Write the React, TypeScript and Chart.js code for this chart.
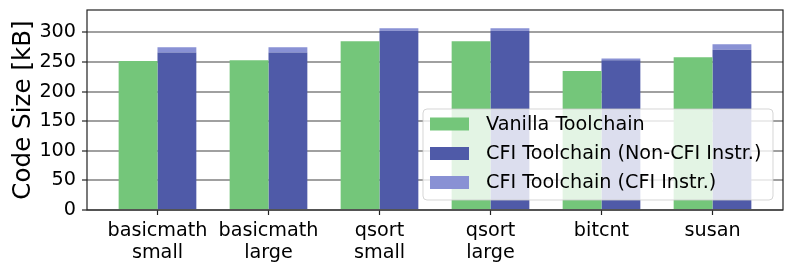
import React, { useEffect, useRef } from "react";
import { Chart, registerables } from "chart.js";

Chart.register(...registerables);

const categories: string[][] = [
  ["basicmath", "small"],
  ["basicmath", "large"],
  ["qsort", "small"],
  ["qsort", "large"],
  ["bitcnt"],
  ["susan"],
];
const vanilla = [252, 253, 285, 285, 235, 258];
const cfiNonInstr = [266, 266, 303, 303, 253, 271];
const cfiInstr = [9, 9, 4, 4, 3, 9];
const yTicks = [0, 50, 100, 150, 200, 250, 300];
const seriesNames = ["Vanilla Toolchain", "CFI Toolchain (Non-CFI Instr.)", "CFI Toolchain (CFI Instr.)"];

const GREEN = "rgb(116,198,122)";
const BLUE = "rgb(79,90,168)";
const LIGHT = "rgb(137,145,212)";
const FONT = "'DejaVu Sans', sans-serif";
const FS = 19.2;

export default function App() {
  const ref = useRef<HTMLCanvasElement | null>(null);
  useEffect(() => {
    if (!ref.current) return;
    const colors = [GREEN, BLUE, LIGHT];
    const framePlugin = {
      id: "frameLegend",
      afterDraw(chart: any) {
        const ctx = chart.ctx;
        const a = chart.chartArea;
        ctx.save();
        ctx.strokeStyle = "#222";
        ctx.lineWidth = 1.2;
        ctx.strokeRect(a.left, a.top, a.right - a.left, a.bottom - a.top);
        // legend
        const lx = 423, ly = 109, lw = 350, lh = 91, r = 4;
        ctx.beginPath();
        ctx.moveTo(lx + r, ly);
        ctx.lineTo(lx + lw - r, ly);
        ctx.quadraticCurveTo(lx + lw, ly, lx + lw, ly + r);
        ctx.lineTo(lx + lw, ly + lh - r);
        ctx.quadraticCurveTo(lx + lw, ly + lh, lx + lw - r, ly + lh);
        ctx.lineTo(lx + r, ly + lh);
        ctx.quadraticCurveTo(lx, ly + lh, lx, ly + lh - r);
        ctx.lineTo(lx, ly + r);
        ctx.quadraticCurveTo(lx, ly, lx + r, ly);
        ctx.closePath();
        ctx.fillStyle = "rgba(255,255,255,0.8)";
        ctx.fill();
        ctx.strokeStyle = "rgba(204,204,204,0.8)";
        ctx.lineWidth = 1;
        ctx.stroke();
        ctx.font = FS + "px " + FONT;
        ctx.textBaseline = "middle";
        ctx.textAlign = "left";
        const rows = [124, 153.5, 182.5];
        seriesNames.forEach((n, i) => {
          ctx.fillStyle = colors[i];
          ctx.fillRect(430, rows[i] - 6.5, 39, 13);
          ctx.fillStyle = "#000";
          ctx.fillText(n, 486, rows[i] + 1);
        });
        ctx.restore();
      },
    };
    const chart = new Chart(ref.current, {
      type: "bar",
      data: {
        datasets: [
          { label: seriesNames[0], data: vanilla.map((v, i) => ({ x: i, y: v })), backgroundColor: GREEN, stack: "a" },
          { label: seriesNames[1], data: cfiNonInstr.map((v, i) => ({ x: i, y: v })), backgroundColor: BLUE, stack: "b" },
          { label: seriesNames[2], data: cfiInstr.map((v, i) => ({ x: i, y: v })), backgroundColor: LIGHT, stack: "b" },
        ] as any,
      },
      options: {
        animation: false,
        responsive: false,
        layout: { padding: { top: 10, right: 10, left: 0, bottom: 0 } },
        datasets: { bar: { barPercentage: 1, categoryPercentage: 0.7, borderWidth: 0 } } as any,
        plugins: { legend: { display: false }, tooltip: { enabled: false } },
        scales: {
          x: {
            type: "linear",
            min: -0.635,
            max: 5.635,
            offset: false,
            afterBuildTicks: (s: any) => {
              s.ticks = categories.map((_, i) => ({ value: i }));
            },
            afterFit: (s: any) => {
              s.height = 61;
              s.paddingLeft = 0;
              s.paddingRight = 0;
            },
            ticks: {
              callback: (v: any) => categories[Math.round(Number(v))] as any,
              font: { family: FONT, size: FS, lineHeight: 1.13 },
              color: "#000",
              padding: 5,
              maxRotation: 0,
              autoSkip: false,
            },
            grid: { display: true, offset: false, drawOnChartArea: false, drawTicks: true, tickLength: 5, tickColor: "#222", tickWidth: 1.2 },
            border: { display: false },
          },
          y: {
            type: "linear",
            stacked: true,
            min: 0,
            max: 338,
            z: 1,
            afterBuildTicks: (s: any) => {
              s.ticks = yTicks.map((v) => ({ value: v }));
            },
            afterFit: (s: any) => {
              s.width = 87;
              s.paddingTop = 0;
              s.paddingBottom = 0;
            },
            ticks: {
              font: { family: FONT, size: FS },
              color: "#000",
              padding: 6,
            },
            grid: {
              color: "rgba(120,120,120,0.7)",
              lineWidth: 2,
              drawTicks: true,
              tickLength: 5,
              tickColor: "#222",
              tickWidth: 1.2,
            },
            border: { display: false },
            title: {
              display: true,
              text: "Code Size [kB]",
              font: { family: FONT, size: 24.6 },
              color: "#000",
              padding: { top: 9, bottom: 0 },
            },
          },
        },
      } as any,
      plugins: [framePlugin],
    });
    return () => chart.destroy();
  }, []);
  return (
    <div style={{ position: "absolute", left: 0, top: 0, width: 793, height: 271, background: "#fff" }}>
      <canvas ref={ref} width={793} height={271} />
    </div>
  );
}
